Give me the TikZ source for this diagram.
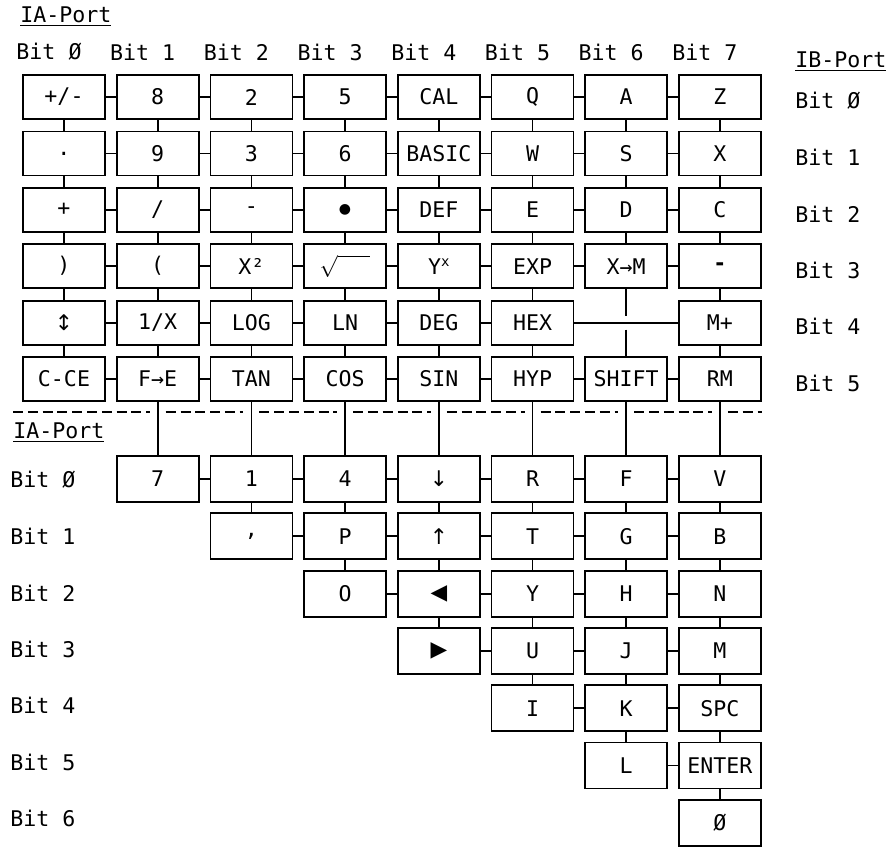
\documentclass[tikz,border=0pt]{standalone}
\usepackage{fontspec}
\setmainfont{DejaVu Sans Mono}
\newfontfamily\symfont{DejaVu Sans}
\usepackage{tikz}
\usetikzlibrary{calc}
\tikzset{
  keybox/.style={rectangle, draw=black, fill=white, line width=0.9pt, align=center, minimum width=41pt, minimum height=22pt, inner sep=1pt},
  lowbox/.style={keybox, minimum height=23pt},
  keylink/.style={draw=black, line width=0.9pt},
  bitlabel/.style={inner sep=0pt, anchor=west},
  portlabel/.style={inner sep=0pt, anchor=west},
  portsplit/.style={draw=black, line width=0.8pt, dash pattern=on 5pt off 2.4pt},
}

\begin{document}
\begin{tikzpicture}[x=0.5pt, y=-0.5pt, font=\fontsize{10.8}{13}\selectfont]
  \useasboundingbox (0,0) rectangle (893,848);

  % Port headings
  \node[portlabel] (iaTop) at (20,17) {\underline{IA-Port}};
  \node[portlabel] (ibSide) at (795,62) {\underline{IB-Port}};
  \node[portlabel] (iaLow) at (13,433) {\underline{IA-Port}};

  % Bit labels
  \foreach \i/\t in {0/Ø,1/1,2/2,3/3,4/4,5/5,6/6,7/7}
    \node[bitlabel, anchor=center] (colbit\i) at ({49+93.7*\i},52) {Bit \t};
  \foreach \j/\t in {0/Ø,1/1,2/2,3/3,4/4,5/5}
    \node[bitlabel] (sidebit\j) at (795,{101+56.4*\j}) {Bit \t};
  \foreach \j/\t in {0/Ø,1/1,2/2,3/3,4/4,5/5,6/6}
    \node[bitlabel] (lowbit\j) at (10,{480+56.4*\j}) {Bit \t};

  % Upper key matrix
  \foreach \lbl [count=\i from 0] in {{+/-},8,2,5,CAL,Q,A,Z}
    \node[keybox] (u\i0) at ({64+93.7*\i},97) {\lbl};
  \foreach \lbl [count=\i from 0] in {{.},9,3,6,BASIC,W,S,X}
    \node[keybox] (u\i1) at ({64+93.7*\i},153.4) {\lbl};
  \foreach \lbl [count=\i from 0] in {{+},{/},{-},{{\symfont\scriptsize ●}},DEF,E,D,C}
    \node[keybox] (u\i2) at ({64+93.7*\i},209.8) {\lbl};
  \foreach \lbl [count=\i from 0] in {{)},{(},{X²},{\(\sqrt{\hphantom{ww}}\)},{Y\raisebox{.6ex}{\scriptsize x}},EXP,{X→M},{\textbf{-}}}
    \node[keybox] (u\i3) at ({64+93.7*\i},266.2) {\lbl};
  \foreach \lbl [count=\i from 0] in {{{\symfont ↕}},{1/X},LOG,LN,DEG,HEX}
    \node[keybox] (u\i4) at ({64+93.7*\i},322.6) {\lbl};
  \node[keybox] (u74) at ({64+93.7*7},322.6) {M+};
  \foreach \lbl [count=\i from 0] in {C-CE,{F→E},TAN,COS,SIN,HYP,SHIFT,RM}
    \node[keybox] (u\i5) at ({64+93.7*\i},379) {\lbl};

  % Lower key matrix
  \foreach \lbl [count=\i from 1] in {7,1,4,{{\symfont ↓}},R,F,V}
    \node[lowbox] (l\i0) at ({64+93.7*\i},479) {\lbl};
  \foreach \lbl [count=\i from 2] in {{,},P,{{\symfont ↑}},T,G,B}
    \node[lowbox] (l\i1) at ({64+93.7*\i},536.3) {\lbl};
  \foreach \lbl [count=\i from 3] in {O,{{\symfont ◀}},Y,H,N}
    \node[lowbox] (l\i2) at ({64+93.7*\i},593.6) {\lbl};
  \foreach \lbl [count=\i from 4] in {{{\symfont ▶}},U,J,M}
    \node[lowbox] (l\i3) at ({64+93.7*\i},650.9) {\lbl};
  \foreach \lbl [count=\i from 5] in {I,K,SPC}
    \node[lowbox] (l\i4) at ({64+93.7*\i},708.2) {\lbl};
  \foreach \lbl [count=\i from 6] in {L,ENTER}
    \node[lowbox] (l\i5) at ({64+93.7*\i},765.5) {\lbl};
  \node[lowbox] (l76) at ({64+93.7*7},822.8) {Ø};

  % Links, upper matrix
  \foreach \j in {0,1,2,3,5} {
    \foreach \i in {0,...,6} {
      \pgfmathtruncatemacro\nxt{\i+1}
      \draw[keylink] (u\i\j.east) -- (u\nxt\j.west);
    }
  }
  \foreach \i in {0,...,4} {
    \pgfmathtruncatemacro\nxt{\i+1}
    \draw[keylink] (u\i4.east) -- (u\nxt4.west);
  }
  \draw[keylink] (u54.east) -- (u74.west);
  \foreach \i in {0,1,2,3,4,5,7} {
    \foreach \j in {0,...,4} {
      \pgfmathtruncatemacro\nxt{\j+1}
      \draw[keylink] (u\i\j.south) -- (u\i\nxt.north);
    }
  }
  \foreach \j in {0,1,2} {
    \pgfmathtruncatemacro\nxt{\j+1}
    \draw[keylink] (u6\j.south) -- (u6\nxt.north);
  }
  % X->M to SHIFT jumps over the HEX--M+ line
  \draw[keylink] (u63.south) -- ($(u63.south |- u54.east)+(0,-7)$);
  \draw[keylink] ($(u65.north |- u54.east)+(0,7)$) -- (u65.north);

  % Drops into the lower matrix
  \foreach \i in {1,...,7}
    \draw[keylink] (u\i5.south) -- (l\i0.north);

  % Links, lower matrix
  \foreach \j in {0,...,5} {
    \pgfmathtruncatemacro\s{\j+1}
    \foreach \i in {\s,...,6} {
      \pgfmathtruncatemacro\nxt{\i+1}
      \draw[keylink] (l\i\j.east) -- (l\nxt\j.west);
    }
  }
  \foreach \i in {2,...,7} {
    \pgfmathtruncatemacro\m{\i-2}
    \foreach \j in {0,...,\m} {
      \pgfmathtruncatemacro\nxt{\j+1}
      \draw[keylink] (l\i\j.south) -- (l\i\nxt.north);
    }
  }

  % Dashed split between the two halves
  \draw[portsplit] (13,412) -- ({64+93.7-8},412);
  \foreach \i in {1,...,6}
    \draw[portsplit] ({64+93.7*\i+8},412) -- ({64+93.7*(\i+1)-8},412);
  \draw[portsplit] ({64+93.7*7+8},412) -- (762,412);
\end{tikzpicture}
\end{document}
